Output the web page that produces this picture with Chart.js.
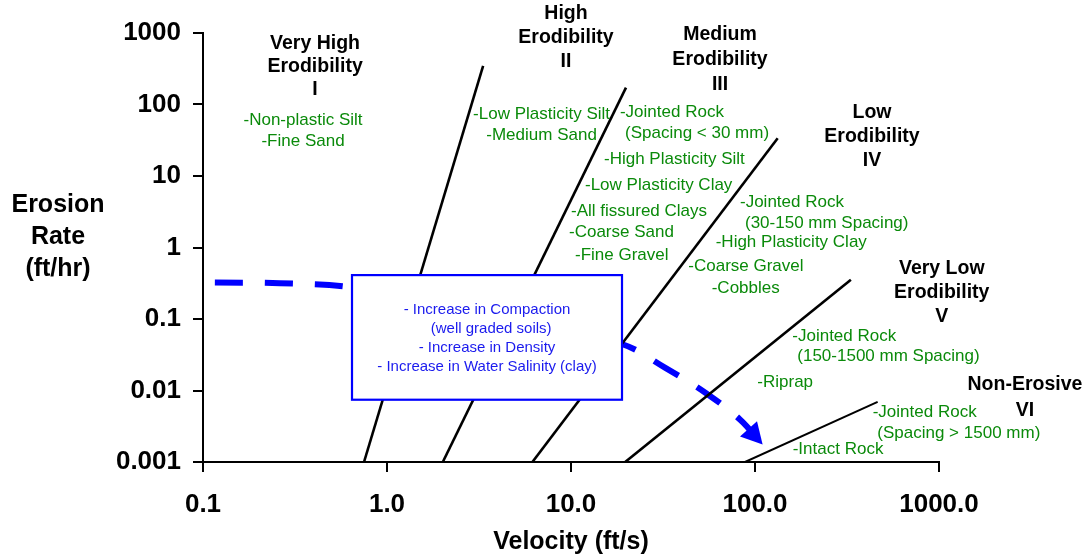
<!DOCTYPE html>
<html>
<head>
<meta charset="utf-8">
<script src="https://cdn.jsdelivr.net/npm/chart.js@4.4.1/dist/chart.umd.min.js"></script>
<style>
  html, body { margin: 0; padding: 0; background: #ffffff; }
  #wrap { width: 1089px; height: 558px; position: relative; }
</style>
</head>
<body>
<div id="wrap"><canvas id="c" width="1089" height="558"></canvas></div>
<script>
// ---------------- DATA ----------------
const xTickValues = [0.1, 1, 10, 100, 1000];
const xTickLabels = ["0.1", "1.0", "10.0", "100.0", "1000.0"];
const yTickValues = [0.001, 0.01, 0.1, 1, 10, 100, 1000];
const yTickLabels = ["0.001", "0.01", "0.1", "1", "10", "100", "1000"];

// Zone boundary lines: start on the 0.001 ft/hr axis, end at upper point
const boundaryVelocityStart = [0.75, 2.01, 6.17, 19.7, 88.3];
const boundaryRateStart = [0.001, 0.001, 0.001, 0.001, 0.001];
const boundaryVelocityEnd = [3.33, 19.9, 132.8, 332, 464];
const boundaryRateEnd = [346, 172, 33.8, 0.355, 0.00695];

// Trend arrow (dashed blue curve)
const trendVelocity = [0.116, 0.262, 0.592, 1.51, 5.28, 19.2, 32.4, 53.5, 82.8, 110];
const trendRate = [0.323, 0.317, 0.284, 0.187, 0.098, 0.044, 0.0209, 0.0094, 0.00394, 0.00176];

const yAxisTitle = ["Erosion", "Rate", "(ft/hr)"];
const xAxisTitle = "Velocity (ft/s)";

const zoneTitles = [
  ["Very High", "Erodibility", "I"],
  ["High", "Erodibility", "II"],
  ["Medium", "Erodibility", "III"],
  ["Low", "Erodibility", "IV"],
  ["Very Low", "Erodibility", "V"],
  ["Non-Erosive", "VI"]
];
const materialLabels = [
  "-Non-plastic Silt", "-Fine Sand",
  "-Low Plasticity Silt", "-Medium Sand",
  "-Jointed Rock", "(Spacing < 30 mm)", "-High Plasticity Silt", "-Low Plasticity Clay",
  "-All fissured Clays", "-Coarse Sand", "-Fine Gravel",
  "-Jointed Rock", "(30-150 mm Spacing)", "-High Plasticity Clay", "-Coarse Gravel", "-Cobbles",
  "-Jointed Rock", "(150-1500 mm Spacing)", "-Riprap",
  "-Jointed Rock", "(Spacing > 1500 mm)", "-Intact Rock"
];
const boxLines = [
  "- Increase in Compaction",
  "  (well graded soils)",
  "- Increase in Density",
  "- Increase in Water Salinity (clay)"
];

// ---------------- LAYOUT (annotation anchors, in log10 data units) ----------------
const zoneTitlePos = [
  { lx: -0.391, ly: 2.856, lh: 23.4 },
  { lx: 0.973, ly: 3.275, lh: 24.2 },
  { lx: 1.810, ly: 2.972, lh: 24.6 },
  { lx: 2.636, ly: 1.892, lh: 24.3 },
  { lx: 3.015, ly: -0.298, lh: 24.0 },
  { lx: 3.467, ly: -1.920, lh: 26.0 }
];
const materialPos = [
  { lx: -0.4565, ly: 1.774, a: "center" }, { lx: -0.4565, ly: 1.481, a: "center" },
  { lx: 0.840, ly: 1.864, a: "center" }, { lx: 0.840, ly: 1.574, a: "center" },
  { lx: 1.266, ly: 1.886 }, { lx: 1.2935, ly: 1.598 }, { lx: 1.1793, ly: 1.235 }, { lx: 1.0761, ly: 0.876 },
  { lx: 1.0, ly: 0.512 }, { lx: 0.9891, ly: 0.209 }, { lx: 1.0217, ly: -0.103 },
  { lx: 1.9185, ly: 0.628 }, { lx: 1.9457, ly: 0.340 }, { lx: 1.7864, ly: 0.075 }, { lx: 1.6375, ly: -0.266 }, { lx: 1.7647, ly: -0.568 },
  { lx: 2.2027, ly: -1.245 }, { lx: 2.2299, ly: -1.524 }, { lx: 2.0125, ly: -1.888 },
  { lx: 2.6397, ly: -2.301 }, { lx: 2.6647, ly: -2.595 }, { lx: 2.2049, ly: -2.828 }
];
const boxRect = { lx1: -0.1902, lx2: 1.2772, ly1: -0.386, ly2: -2.129 };
const boxTextPos = { lx: 0.5435, ly: -0.871, lh: 19 };

const FONT = "'Liberation Sans', Arial, Helvetica, sans-serif";
const GREEN = "#0a8a0a";

// ---------------- DATASETS ----------------
const datasets = boundaryVelocityStart.map((v, i) => ({
  data: [{ x: v, y: boundaryRateStart[i] }, { x: boundaryVelocityEnd[i], y: boundaryRateEnd[i] }],
  borderColor: "#000000",
  borderWidth: i === 4 ? 2 : 2.6,
  showLine: true,
  pointRadius: 0,
  tension: 0
}));
datasets.push({
  data: trendVelocity.map((v, i) => ({ x: v, y: trendRate[i] })),
  borderColor: "#0000ff",
  borderWidth: 6,
  borderDash: [28, 22],
  borderCapStyle: "butt",
  showLine: true,
  pointRadius: 0,
  tension: 0.35,
  isTrend: true
});

// ---------------- PLUGIN ----------------
const annotationPlugin = {
  id: "annotations",
  afterDatasetsDraw(chart) {
    const ctx = chart.ctx;
    const xs = chart.scales.x, ys = chart.scales.y;
    const px = lx => xs.getPixelForValue(Math.pow(10, lx));
    const py = ly => ys.getPixelForValue(Math.pow(10, ly));

    // Arrow head at end of trend curve
    const trendIndex = chart.data.datasets.findIndex(d => d.isTrend);
    const meta = chart.getDatasetMeta(trendIndex);
    const pts = meta.data;
    const tip = pts[pts.length - 1], prev = pts[pts.length - 2];
    const ang = Math.atan2(tip.y - prev.y, tip.x - prev.x);
    const L = 21, W = 11.5;
    ctx.save();
    ctx.fillStyle = "#0000ff";
    ctx.beginPath();
    ctx.moveTo(tip.x, tip.y);
    ctx.lineTo(tip.x - L * Math.cos(ang) + W * Math.sin(ang), tip.y - L * Math.sin(ang) - W * Math.cos(ang));
    ctx.lineTo(tip.x - L * Math.cos(ang) - W * Math.sin(ang), tip.y - L * Math.sin(ang) + W * Math.cos(ang));
    ctx.closePath();
    ctx.fill();
    ctx.restore();

    // Box
    const bx1 = px(boxRect.lx1), bx2 = px(boxRect.lx2), by1 = py(boxRect.ly1), by2 = py(boxRect.ly2);
    ctx.save();
    ctx.fillStyle = "#ffffff";
    ctx.fillRect(bx1, by1, bx2 - bx1, by2 - by1);
    ctx.strokeStyle = "#0000ff";
    ctx.lineWidth = 2.2;
    ctx.strokeRect(bx1, by1, bx2 - bx1, by2 - by1);
    ctx.fillStyle = "#1a1aee";
    ctx.font = "15px " + FONT;
    ctx.textAlign = "center";
    ctx.textBaseline = "middle";
    const bcx = px(boxTextPos.lx), bcy = py(boxTextPos.ly);
    boxLines.forEach((t, i) => ctx.fillText(t, bcx, bcy + i * boxTextPos.lh));
    ctx.restore();

    // Zone titles
    ctx.save();
    ctx.fillStyle = "#000000";
    ctx.font = "bold 19.5px " + FONT;
    ctx.textAlign = "center";
    ctx.textBaseline = "middle";
    zoneTitles.forEach((lines, i) => {
      const p = zoneTitlePos[i];
      const cx = px(p.lx), cy = py(p.ly);
      lines.forEach((t, j) => ctx.fillText(t, cx, cy + j * p.lh));
    });
    ctx.restore();

    // Material labels
    ctx.save();
    ctx.fillStyle = GREEN;
    ctx.font = "17px " + FONT;
    ctx.textBaseline = "middle";
    materialLabels.forEach((t, i) => {
      const p = materialPos[i];
      ctx.textAlign = p.a || "left";
      ctx.fillText(t, px(p.lx), py(p.ly));
    });
    ctx.restore();

    // Y axis title (horizontal, multi-line)
    ctx.save();
    ctx.fillStyle = "#000000";
    ctx.font = "bold 25px " + FONT;
    ctx.textAlign = "center";
    ctx.textBaseline = "middle";
    const tx = chart.chartArea.left - 145;
    const midY = (chart.chartArea.top + chart.chartArea.bottom) / 2;
    yAxisTitle.forEach((t, i) => ctx.fillText(t, tx, midY - 10 + (i - 1) * 32));
    ctx.restore();
  }
};

// ---------------- CHART ----------------
new Chart(document.getElementById("c"), {
  type: "scatter",
  data: { datasets },
  options: {
    responsive: false,
    animation: false,
    events: [],
    layout: { padding: { left: 0, right: 150, top: 33, bottom: 0 } },
    plugins: { legend: { display: false }, tooltip: { enabled: false } },
    scales: {
      x: {
        type: "logarithmic",
        min: 0.1,
        max: 1000,
        afterBuildTicks: s => { s.ticks = xTickValues.map(v => ({ value: v })); },
        afterFit: s => { s.height = 96; },
        ticks: {
          autoSkip: false,
          maxRotation: 0,
          color: "#000000",
          padding: 17,
          font: { family: FONT, size: 26, weight: "bold" },
          callback: (v) => { const k = xTickValues.indexOf(v); return k >= 0 ? xTickLabels[k] : ""; }
        },
        grid: { display: true, drawOnChartArea: false, drawTicks: true, tickLength: 10, color: "#000000", lineWidth: 2 },
        border: { display: true, color: "#000000", width: 2 },
        title: {
          display: true,
          text: xAxisTitle,
          color: "#000000",
          font: { family: FONT, size: 25, weight: "bold" },
          padding: { top: 0, bottom: 1 }
        }
      },
      y: {
        type: "logarithmic",
        min: 0.001,
        max: 1000,
        afterBuildTicks: s => { s.ticks = yTickValues.map(v => ({ value: v })); },
        afterFit: s => { s.width = 203; },
        ticks: {
          autoSkip: false,
          color: "#000000",
          padding: 12,
          font: { family: FONT, size: 26, weight: "bold" },
          callback: (v) => { const k = yTickValues.indexOf(v); return k >= 0 ? yTickLabels[k] : ""; }
        },
        grid: { display: true, drawOnChartArea: false, drawTicks: true, tickLength: 10, color: "#000000", lineWidth: 2 },
        border: { display: true, color: "#000000", width: 2 }
      }
    }
  },
  plugins: [annotationPlugin]
});
</script>
</body>
</html>
